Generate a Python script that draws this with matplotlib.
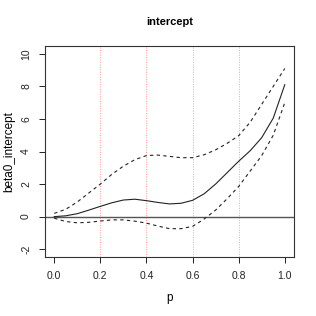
import matplotlib
matplotlib.use('Agg')
import matplotlib.pyplot as plt
import numpy as np

plt.rcParams['font.family'] = ['Liberation Sans', 'DejaVu Sans']

# Estimated curve (solid) with upper / lower bands (dashed)
p = np.array([0.00, 0.05, 0.10, 0.15, 0.20, 0.25, 0.30, 0.35, 0.40, 0.45, 0.50,
              0.55, 0.60, 0.65, 0.70, 0.75, 0.80, 0.85, 0.90, 0.95, 1.00])
fit = np.array([0.00, 0.05, 0.18, 0.40, 0.63, 0.85, 1.02, 1.07, 0.98, 0.87, 0.78,
                0.82, 1.00, 1.40, 2.00, 2.70, 3.40, 4.05, 4.85, 6.05, 8.10])
upper = np.array([0.20, 0.45, 0.90, 1.45, 2.00, 2.60, 3.10, 3.50, 3.75, 3.78, 3.70,
                  3.62, 3.62, 3.80, 4.10, 4.50, 4.97, 5.80, 6.90, 8.00, 9.10])
lower = np.array([-0.10, -0.30, -0.38, -0.35, -0.27, -0.20, -0.20, -0.28, -0.40, -0.58, -0.74,
                  -0.74, -0.60, -0.15, 0.40, 1.10, 1.85, 2.80, 3.75, 5.00, 7.00])
knots = [0.2, 0.4, 0.6, 0.8]
xticks = [0.0, 0.2, 0.4, 0.6, 0.8, 1.0]
yticks = [-2, 0, 2, 4, 6, 8, 10]

fig = plt.figure(figsize=(3.16, 3.16), dpi=100)
ax = fig.add_axes([45 / 316, 1 - 257 / 316, 249 / 316, 211 / 316])

for k in knots:
    ax.axvline(k, color='#ff9a9a', linestyle=(0, (1, 1.5)), linewidth=0.7)
ax.axhline(0, color='#555555', linewidth=1.0)
ax.plot(p, fit, color='#222222', linewidth=0.8)
ax.plot(p, upper, color='#222222', linewidth=0.8, linestyle=(0, (3, 3)))
ax.plot(p, lower, color='#222222', linewidth=0.8, linestyle=(0, (3, 3)))

ax.set_xlim(-0.04, 1.04)
ax.set_ylim(-2.48, 10.48)
ax.set_xticks(xticks)
ax.set_xticklabels(['0.0', '0.2', '0.4', '0.6', '0.8', '1.0'])
ax.set_yticks(yticks)
ax.set_yticklabels([str(v) for v in yticks], rotation=90, va='center')
ax.tick_params(direction='out', length=4, width=0.7, labelsize=7.5, pad=6, colors='#222222')
for s in ax.spines.values():
    s.set_linewidth(0.8)
    s.set_color('#333333')

ax.set_xlabel('p', fontsize=8.5, labelpad=8)
ax.set_ylabel('beta0_intercept', fontsize=8.5, labelpad=4)
ax.set_title('intercept', fontsize=8, fontweight='bold', pad=15)

fig.savefig('out.png', dpi=100)
